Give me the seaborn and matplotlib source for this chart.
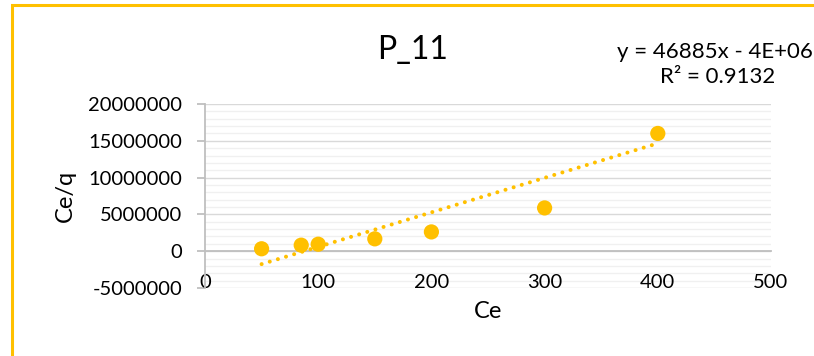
import matplotlib
matplotlib.use("Agg")
import matplotlib.pyplot as plt
import matplotlib.ticker as mticker
from matplotlib.patches import Rectangle
import numpy as np
import seaborn as sns

# ---- data ----
ce = [50, 85, 100, 150, 200, 300, 400]
ce_q = [330000, 820000, 950000, 1680000, 2620000, 5880000, 16000000]
trend_slope = 46885
trend_intercept = -4.1e6
title = "P_11"
eq_line1 = "y = 46885x - 4E+06"
eq_line2 = "R² = 0.9132"
x_ticks = [0, 100, 200, 300, 400, 500]
y_ticks = [-5000000, 0, 5000000, 10000000, 15000000, 20000000]

GOLD = "#FFC000"
AXC = "#BFBFBF"

sns.set_theme(style="white")
plt.rcParams['font.family'] = ['Lato', 'DejaVu Sans']

fig = plt.figure(figsize=(8.14, 3.56), dpi=100)
fig.patch.set_facecolor("white")
ax = fig.add_axes([205/814, 1-288/356, (771-205)/814, (288-104)/356])
ax.set_facecolor("white")

# gridlines
ax.set_xlim(0, 500)
ax.set_ylim(-5000000, 20000000)
ax.yaxis.set_major_locator(mticker.FixedLocator(y_ticks))
ax.yaxis.set_minor_locator(mticker.MultipleLocator(1000000))
ax.xaxis.set_major_locator(mticker.FixedLocator(x_ticks))
ax.grid(False)
ax.grid(True, which="minor", axis="y", color="#F0F0F0", lw=1.0, zorder=0)
ax.grid(True, which="major", axis="y", color="#D9D9D9", lw=1.0, zorder=0)
ax.set_axisbelow(True)
ax.yaxis.set_zorder(0.4)
ax.xaxis.set_zorder(0.6)

# trendline
xs = np.array([min(ce), max(ce)], dtype=float)
ax.plot(xs, trend_slope*xs + trend_intercept, color=GOLD, lw=2.9,
        linestyle=(0, (0.01, 2.1)), dash_capstyle="round", zorder=3)

sns.scatterplot(x=ce, y=ce_q, ax=ax, color=GOLD, s=120, edgecolor="none",
                zorder=4, legend=False)

# spines
for s in ["top", "right"]:
    ax.spines[s].set_visible(False)
ax.spines["bottom"].set_position(("data", 0))
ax.spines["bottom"].set_color(AXC)
ax.spines["bottom"].set_linewidth(1.3)
ax.spines["left"].set_color(AXC)
ax.spines["left"].set_linewidth(1.3)

ax.tick_params(axis="x", which="major", direction="out", length=5.8, width=1.3,
               color=AXC, pad=10.5, labelsize=14.5, labelcolor="#000000")
ax.tick_params(axis="y", which="major", direction="out", length=5.8, width=1.3,
               color=AXC, pad=10.5, labelsize=14.5, labelcolor="#000000", left=True)
ax.tick_params(axis="y", which="minor", left=False)
ax.yaxis.set_major_formatter(mticker.FuncFormatter(lambda v, p: str(int(round(v)))))
ax.xaxis.set_major_formatter(mticker.FuncFormatter(lambda v, p: str(int(round(v)))))

ax.set_xlabel("Ce", fontsize=17, color="#000000")
ax.set_ylabel("Ce/q", fontsize=17, color="#000000")
ax.xaxis.label.set_va("center")
ax.yaxis.label.set_va("center")
ax.xaxis.set_label_coords(0.5, (288-311)/184)
ax.yaxis.set_label_coords((65-205)/566, 0.5)

fig.text(413/814, 1-50/356, title, ha="center", va="center", fontsize=23, color="#000000")
fig.text(715/814, 1-52/356, eq_line1, ha="center", va="center", fontsize=16, color="#000000")
fig.text(718/814, 1-77/356, eq_line2, ha="center", va="center", fontsize=16, color="#000000")

# gold border
fig.patches.append(Rectangle((12/814, -0.2), 1.2, 1.2 - 5/356, transform=fig.transFigure,
                             fill=False, edgecolor=GOLD, lw=2.2, clip_on=False))

fig.savefig("out.png", dpi=100, facecolor="white")
